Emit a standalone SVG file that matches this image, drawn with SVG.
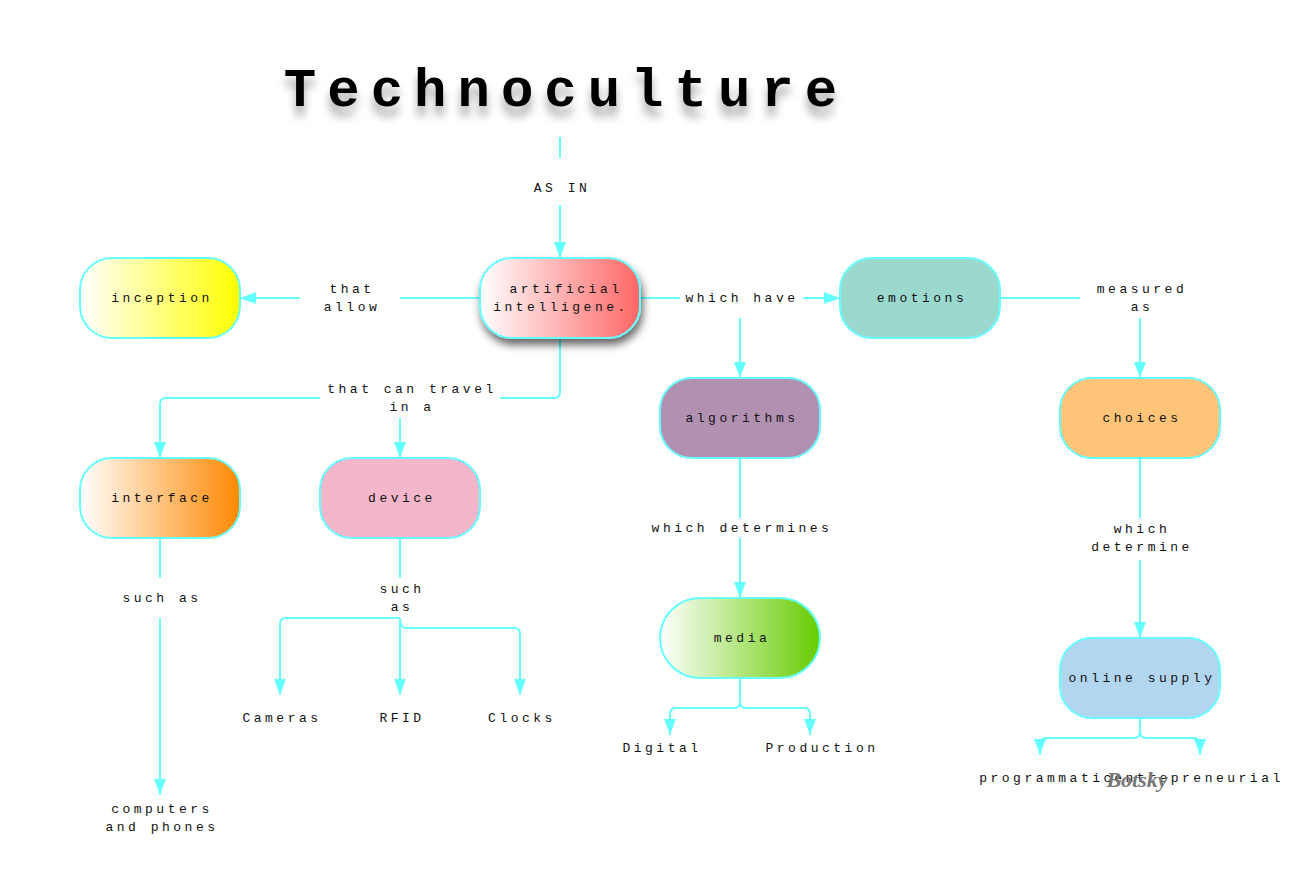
<svg xmlns="http://www.w3.org/2000/svg" width="1300" height="880" viewBox="0 0 1300 880">
<style>
.n{stroke:#66FFFF;stroke-width:2}
.t{font-family:"Liberation Mono","DejaVu Sans Mono",monospace;font-size:13px;letter-spacing:3.5px;fill:#111;text-anchor:middle}
.c{fill:none;stroke:#66FFFF;stroke-width:2}
.title{font-family:"Liberation Mono","DejaVu Sans Mono",monospace;font-size:54px;font-weight:bold;letter-spacing:11px;fill:#000;text-anchor:middle}
</style>
<defs>
<marker id="ah" viewBox="0 0 10 16" refX="10" refY="8" markerWidth="10" markerHeight="16" markerUnits="userSpaceOnUse" orient="auto">
<path d="M0,0 L10,8 L0,16 Z" fill="#66FFFF" transform="rotate(0)"/>
</marker>
<marker id="av" viewBox="0 0 12 16" refX="6" refY="16" markerWidth="12" markerHeight="16" markerUnits="userSpaceOnUse" orient="0">
<path d="M0,0 L12,0 L6,16 Z" fill="#66FFFF"/>
</marker>
<marker id="al" viewBox="0 0 16 12" refX="0" refY="6" markerWidth="16" markerHeight="12" markerUnits="userSpaceOnUse" orient="0">
<path d="M16,0 L16,12 L0,6 Z" fill="#66FFFF"/>
</marker>
<marker id="ar" viewBox="0 0 16 12" refX="16" refY="6" markerWidth="16" markerHeight="12" markerUnits="userSpaceOnUse" orient="0">
<path d="M0,0 L0,12 L16,6 Z" fill="#66FFFF"/>
</marker>
<linearGradient id="gY" x1="0" x2="1" y1="0" y2="0"><stop offset="0" stop-color="#FFFFFF"/><stop offset="1" stop-color="#FFFF00"/></linearGradient>
<linearGradient id="gR" x1="0" x2="1" y1="0" y2="0"><stop offset="0" stop-color="#FFFFFF"/><stop offset="1" stop-color="#FF6666"/></linearGradient>
<linearGradient id="gO" x1="0" x2="1" y1="0" y2="0"><stop offset="0" stop-color="#FFFFFF"/><stop offset="1" stop-color="#FF8800"/></linearGradient>
<linearGradient id="gG" x1="0" x2="1" y1="0" y2="0"><stop offset="0" stop-color="#FFFFFF"/><stop offset="1" stop-color="#66CC00"/></linearGradient>
<filter id="sh" x="-30%" y="-30%" width="160%" height="170%"><feGaussianBlur in="SourceAlpha" stdDeviation="4"/><feOffset dx="2" dy="6" result="b"/><feComponentTransfer><feFuncA type="linear" slope="0.6"/></feComponentTransfer><feMerge><feMergeNode/><feMergeNode in="SourceGraphic"/></feMerge></filter>
<filter id="tsh" x="-10%" y="-30%" width="120%" height="180%"><feGaussianBlur in="SourceAlpha" stdDeviation="5"/><feOffset dx="0" dy="10"/><feComponentTransfer><feFuncA type="linear" slope="0.35"/></feComponentTransfer><feMerge><feMergeNode/><feMergeNode in="SourceGraphic"/></feMerge></filter>
</defs>
<rect width="1300" height="880" fill="#FFFFFF"/>

<g id="title"><text class="title" x="566" y="106" filter="url(#tsh)">Technoculture</text></g>

<g id="connectors">
<path class="c" d="M560,137 V158"/>
<text class="t" x="562" y="192">AS IN</text>
<path class="c" d="M560,205 V258" marker-end="url(#av)"/>

<path class="c" d="M480,298 H400"/>
<text class="t" x="352" y="293">that</text>
<text class="t" x="352" y="311">allow</text>
<path class="c" d="M300,298 H240" marker-end="url(#al)"/>

<path class="c" d="M640,298 H680"/>
<text class="t" x="742" y="302">which have</text>
<path class="c" d="M803,298 H840" marker-end="url(#ar)"/>
<path class="c" d="M740,318 V378" marker-end="url(#av)"/>

<path class="c" d="M1000,298 H1080"/>
<text class="t" x="1142" y="293">measured</text>
<text class="t" x="1142" y="311">as</text>
<path class="c" d="M1140,318 V378" marker-end="url(#av)"/>

<path class="c" d="M560,338 V392 Q560,398 554,398 H500"/>
<text class="t" x="412" y="393">that can travel</text>
<text class="t" x="412" y="411">in a</text>
<path class="c" d="M320,398 H166 Q160,398 160,404 V458" marker-end="url(#av)"/>
<path class="c" d="M400,418 V458" marker-end="url(#av)"/>

<path class="c" d="M740,458 V518"/>
<text class="t" x="742" y="532">which determines</text>
<path class="c" d="M740,538 V598" marker-end="url(#av)"/>

<path class="c" d="M1140,458 V518"/>
<text class="t" x="1142" y="533">which</text>
<text class="t" x="1142" y="551">determine</text>
<path class="c" d="M1140,560 V638" marker-end="url(#av)"/>

<path class="c" d="M160,538 V578"/>
<text class="t" x="162" y="602">such as</text>
<path class="c" d="M160,618 V795" marker-end="url(#av)"/>
<text class="t" x="162" y="813">computers</text>
<text class="t" x="162" y="831">and phones</text>

<path class="c" d="M400,538 V578"/>
<text class="t" x="402" y="593">such</text>
<text class="t" x="402" y="611">as</text>
<path class="c" d="M400,618 H286 Q280,618 280,624 V695" marker-end="url(#av)"/>
<path class="c" d="M400,618 V695" marker-end="url(#av)"/>
<path class="c" d="M400,618 Q400,628 406,628 H514 Q520,628 520,634 V695" marker-end="url(#av)"/>
<text class="t" x="282" y="722">Cameras</text>
<text class="t" x="402" y="722">RFID</text>
<text class="t" x="522" y="722">Clocks</text>

<path class="c" d="M740,678 V702 Q740,708 734,708 H676 Q670,708 670,714 V735" marker-end="url(#av)"/>
<path class="c" d="M740,702 Q740,708 746,708 H804 Q810,708 810,714 V735" marker-end="url(#av)"/>
<text class="t" x="662" y="752">Digital</text>
<text class="t" x="822" y="752">Production</text>

<path class="c" d="M1140,718 V732 Q1140,738 1134,738 H1046 Q1040,738 1040,744 V755" marker-end="url(#av)"/>
<path class="c" d="M1140,732 Q1140,738 1146,738 H1194 Q1200,738 1200,744 V755" marker-end="url(#av)"/>
<text class="t" x="1047" y="782">programmatic</text>
<text class="t" x="1199" y="782">entrepreneurial</text>
<text x="1137" y="787" style="font-family:'Liberation Serif',serif;font-size:22px;font-style:italic;font-weight:bold;fill:#777;text-anchor:middle">Botsky</text>
</g>

<g id="inception"><rect class="n" x="80" y="258" width="160" height="80" rx="32" fill="url(#gY)"/><text class="t" x="162" y="302">inception</text></g>
<g id="ai"><rect class="n" x="480" y="258" width="160" height="80" rx="32" fill="url(#gR)" filter="url(#sh)"/><text class="t" x="566" y="293">artificial</text><text class="t" x="561" y="311">intelligene.</text></g>
<g id="emotions"><rect class="n" x="840" y="258" width="160" height="80" rx="32" fill="#9BD8CE"/><text class="t" x="922" y="302">emotions</text></g>
<g id="algorithms"><rect class="n" x="660" y="378" width="160" height="80" rx="32" fill="#B290B2"/><text class="t" x="742" y="422">algorithms</text></g>
<g id="choices"><rect class="n" x="1060" y="378" width="160" height="80" rx="32" fill="#FFC477"/><text class="t" x="1142" y="422">choices</text></g>
<g id="interface"><rect class="n" x="80" y="458" width="160" height="80" rx="32" fill="url(#gO)"/><text class="t" x="162" y="502">interface</text></g>
<g id="device"><rect class="n" x="320" y="458" width="160" height="80" rx="32" fill="#F3B6CA"/><text class="t" x="402" y="502">device</text></g>
<g id="media"><rect class="n" x="660" y="598" width="160" height="80" rx="40" fill="url(#gG)"/><text class="t" x="742" y="642">media</text></g>
<g id="online-supply"><rect class="n" x="1060" y="638" width="160" height="80" rx="32" fill="#B3D6F0"/><text class="t" x="1142" y="682">online supply</text></g>
</svg>
